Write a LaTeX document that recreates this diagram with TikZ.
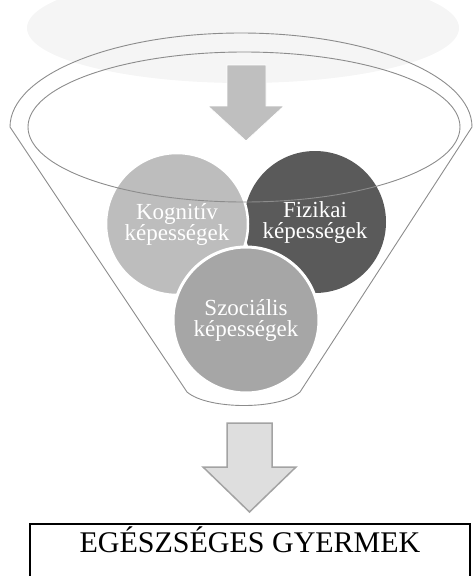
\documentclass[tikz,border=0pt]{standalone}
\usepackage{fontspec}
\setmainfont{Liberation Serif}
\usepackage{xcolor}
\definecolor{hazegray}{HTML}{F5F5F5}
\definecolor{rimgray}{HTML}{8C8C8C}
\definecolor{kogfill}{HTML}{BDBDBD}
\definecolor{fizfill}{HTML}{5A5A5A}
\definecolor{szocfill}{HTML}{A6A6A6}
\definecolor{toparrow}{HTML}{BFBFBF}
\definecolor{lowfill}{HTML}{DEDEDE}
\definecolor{lowdraw}{HTML}{A3A3A3}

\begin{document}
\begin{tikzpicture}[
    x=1pt, y=-1pt,
    rim/.style={draw=rimgray, line width=0.9pt},
    skill/.style={circle, draw=white, line width=2.5pt, minimum size=142pt, text=white, align=center, font=\fontsize{23}{21}\selectfont},
    flowarrow/.style={fill=toparrow, draw=white, line width=0.8pt},
    goalarrow/.style={fill=lowfill, draw=lowdraw, line width=1.5pt},
    goalbox/.style={rectangle, draw=black, line width=1.6pt, anchor=north, minimum width=440pt, inner ysep=9pt, text height=20pt, text depth=40pt, font=\fontsize{30}{30}\selectfont}
]
\useasboundingbox (0,0) rectangle (473,576);
\clip (0,0) rectangle (473,576);

% haze behind the funnel
\fill[hazegray] (243,28) ellipse [x radius=216, y radius=55];

% funnel body
\draw[rim] (10,127) arc [start angle=180, end angle=360, x radius=231, y radius=94]
    -- (300,392) .. controls (280,410) and (208,410) .. (187,392) -- cycle;

% inflow arrow
\draw[flowarrow] (227,65) -- (266,65) -- (266,106) -- (284,106) -- (246,141)
    -- (208,106) -- (227,106) -- cycle;

% skills
\node[skill, fill=fizfill, draw=none, minimum size=142pt] (fizikai) at (315,222) {\raisebox{4pt}{Fizikai}\\\raisebox{4pt}{képességek}};
\node[skill, fill=kogfill] (kognitiv) at (177,224) {\raisebox{5pt}{Kognitív}\\\raisebox{5pt}{képességek}};
\node[skill, fill=szocfill, line width=3pt, minimum size=146pt] (szocialis) at (246,320) {Szociális\\képességek};

% inner rim over the circles
\draw[rim] (244,127) ellipse [x radius=216, y radius=75];

% outflow arrow
\draw[goalarrow] (227,423) -- (272,423) -- (272,467) -- (296,467) -- (249.5,512)
    -- (203,467) -- (227,467) -- cycle;

\node[goalbox] (gyermek) at (250,523) {EGÉSZSÉGES GYERMEK};
\end{tikzpicture}
\end{document}
